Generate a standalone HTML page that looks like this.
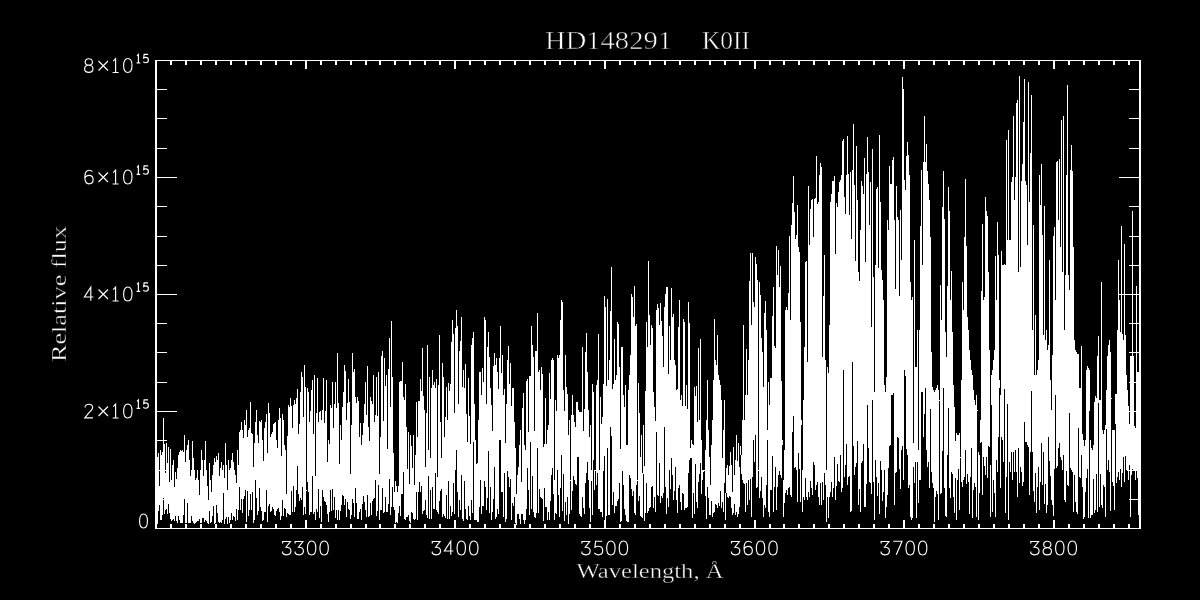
<!DOCTYPE html><html><head><meta charset="utf-8"><style>html,body{margin:0;padding:0;background:#000;width:1200px;height:600px;overflow:hidden}svg{display:block;font-family:"Liberation Serif",serif;will-change:transform}</style></head><body><svg width="1200" height="600" viewBox="0 0 1200 600" shape-rendering="crispEdges"><rect width="1200" height="600" fill="#000"/><path fill="#fff" d="M157 457h1V524h-1zM158 453h1V511h-1zM159 486h1V505h-1zM160 450h1V520h-1zM161 455h1V520h-1zM162 452h1V515h-1zM163 418h1V498h-1zM164 444h1V514h-1zM165 473h1V510h-1zM166 443h1V509h-1zM167 463h1V514h-1zM168 447h1V504h-1zM169 482h1V513h-1zM170 449h1V519h-1zM171 480h1V521h-1zM172 465h1V520h-1zM173 460h1V519h-1zM174 487h1V521h-1zM175 472h1V516h-1zM176 479h1V521h-1zM177 468h1V523h-1zM178 455h1V516h-1zM179 452h1V520h-1zM180 450h1V523h-1zM181 451h1V523h-1zM182 450h1V523h-1zM183 452h1V515h-1zM184 435h1V499h-1zM185 462h1V523h-1zM186 450h1V523h-1zM187 445h1V503h-1zM188 440h1V523h-1zM189 460h1V523h-1zM190 476h1V523h-1zM191 470h1V516h-1zM192 441h1V521h-1zM193 458h1V523h-1zM194 470h1V524h-1zM195 480h1V523h-1zM196 478h1V522h-1zM197 470h1V521h-1zM198 480h1V521h-1zM199 495h1V519h-1zM200 470h1V523h-1zM201 450h1V523h-1zM202 460h1V518h-1zM203 476h1V518h-1zM204 460h1V522h-1zM205 441h1V520h-1zM206 470h1V521h-1zM207 486h1V523h-1zM208 500h1V524h-1zM209 463h1V511h-1zM210 480h1V523h-1zM211 492h1V522h-1zM212 475h1V516h-1zM213 465h1V506h-1zM214 458h1V524h-1zM215 462h1V523h-1zM216 456h1V505h-1zM217 460h1V513h-1zM218 453h1V522h-1zM219 476h1V523h-1zM220 468h1V522h-1zM221 462h1V523h-1zM222 470h1V520h-1zM223 465h1V493h-1zM224 478h1V524h-1zM225 443h1V519h-1zM226 465h1V517h-1zM227 490h1V524h-1zM228 460h1V517h-1zM229 470h1V523h-1zM230 468h1V520h-1zM231 460h1V513h-1zM232 453h1V520h-1zM233 462h1V516h-1zM234 470h1V517h-1zM235 475h1V521h-1zM236 483h1V509h-1zM237 450h1V520h-1zM238 465h1V510h-1zM239 432h1V487h-1zM240 430h1V510h-1zM241 422h1V499h-1zM242 430h1V513h-1zM243 438h1V499h-1zM244 420h1V496h-1zM245 425h1V490h-1zM246 410h1V522h-1zM247 437h1V491h-1zM248 430h1V516h-1zM249 428h1V510h-1zM250 402h1V494h-1zM251 433h1V510h-1zM252 434h1V492h-1zM253 467h1V523h-1zM254 443h1V520h-1zM255 422h1V480h-1zM256 410h1V498h-1zM257 435h1V515h-1zM258 443h1V511h-1zM259 421h1V488h-1zM260 422h1V507h-1zM261 420h1V511h-1zM262 440h1V521h-1zM263 461h1V520h-1zM264 428h1V512h-1zM265 422h1V512h-1zM266 414h1V490h-1zM267 453h1V522h-1zM268 403h1V506h-1zM269 413h1V504h-1zM270 437h1V512h-1zM271 434h1V511h-1zM272 432h1V507h-1zM273 424h1V509h-1zM274 423h1V515h-1zM275 422h1V516h-1zM276 440h1V511h-1zM277 448h1V509h-1zM278 420h1V508h-1zM279 408h1V512h-1zM280 418h1V520h-1zM281 456h1V516h-1zM282 414h1V500h-1zM283 420h1V516h-1zM284 445h1V508h-1zM285 450h1V509h-1zM286 494h1V517h-1zM287 436h1V513h-1zM288 405h1V514h-1zM289 407h1V515h-1zM290 398h1V515h-1zM291 406h1V491h-1zM292 428h1V512h-1zM293 405h1V486h-1zM294 400h1V512h-1zM295 404h1V507h-1zM296 398h1V490h-1zM297 389h1V466h-1zM298 434h1V494h-1zM299 424h1V501h-1zM300 392h1V498h-1zM301 372h1V500h-1zM302 377h1V487h-1zM303 417h1V515h-1zM304 365h1V507h-1zM305 387h1V514h-1zM306 490h1V491h-1zM307 388h1V482h-1zM308 392h1V492h-1zM309 422h1V515h-1zM310 411h1V512h-1zM311 390h1V512h-1zM312 380h1V476h-1zM313 434h1V514h-1zM314 375h1V512h-1zM315 476h1V520h-1zM316 413h1V509h-1zM317 378h1V512h-1zM318 422h1V489h-1zM319 412h1V518h-1zM320 411h1V506h-1zM321 420h1V522h-1zM322 410h1V490h-1zM323 378h1V497h-1zM324 423h1V501h-1zM325 411h1V502h-1zM326 380h1V505h-1zM327 462h1V514h-1zM328 440h1V522h-1zM329 444h1V512h-1zM330 405h1V490h-1zM331 408h1V511h-1zM332 382h1V489h-1zM333 428h1V510h-1zM334 404h1V497h-1zM335 382h1V518h-1zM336 408h1V510h-1zM337 353h1V520h-1zM338 403h1V510h-1zM339 464h1V520h-1zM340 425h1V511h-1zM341 440h1V505h-1zM342 407h1V495h-1zM343 392h1V496h-1zM344 365h1V505h-1zM345 371h1V499h-1zM346 420h1V517h-1zM347 403h1V502h-1zM348 379h1V509h-1zM349 402h1V510h-1zM350 474h1V519h-1zM351 425h1V515h-1zM352 353h1V499h-1zM353 372h1V503h-1zM354 369h1V517h-1zM355 397h1V488h-1zM356 403h1V503h-1zM357 397h1V519h-1zM358 401h1V519h-1zM359 437h1V512h-1zM360 423h1V509h-1zM361 445h1V520h-1zM362 435h1V504h-1zM363 423h1V496h-1zM364 404h1V502h-1zM365 382h1V510h-1zM366 415h1V517h-1zM367 366h1V495h-1zM368 427h1V517h-1zM369 441h1V516h-1zM370 397h1V503h-1zM371 401h1V515h-1zM372 404h1V501h-1zM373 375h1V499h-1zM374 422h1V498h-1zM375 415h1V480h-1zM376 377h1V516h-1zM377 416h1V511h-1zM378 372h1V485h-1zM379 474h1V520h-1zM380 437h1V510h-1zM381 356h1V510h-1zM382 351h1V488h-1zM383 421h1V513h-1zM384 358h1V512h-1zM385 386h1V497h-1zM386 375h1V512h-1zM387 449h1V512h-1zM388 369h1V504h-1zM389 338h1V479h-1zM390 407h1V515h-1zM391 321h1V507h-1zM392 377h1V487h-1zM393 453h1V507h-1zM394 492h1V510h-1zM395 481h1V523h-1zM396 486h1V522h-1zM397 492h1V523h-1zM398 486h1V513h-1zM399 382h1V506h-1zM400 381h1V516h-1zM401 381h1V494h-1zM402 362h1V494h-1zM403 397h1V472h-1zM404 400h1V519h-1zM405 384h1V520h-1zM406 427h1V517h-1zM407 469h1V517h-1zM408 432h1V515h-1zM409 484h1V521h-1zM410 435h1V523h-1zM411 446h1V512h-1zM412 468h1V513h-1zM413 435h1V519h-1zM414 485h1V520h-1zM415 455h1V519h-1zM416 402h1V492h-1zM417 437h1V520h-1zM418 401h1V492h-1zM419 401h1V482h-1zM420 379h1V492h-1zM421 391h1V486h-1zM422 348h1V514h-1zM423 396h1V511h-1zM424 410h1V510h-1zM425 467h1V500h-1zM426 413h1V515h-1zM427 345h1V518h-1zM428 450h1V476h-1zM429 377h1V519h-1zM430 458h1V490h-1zM431 388h1V519h-1zM432 370h1V487h-1zM433 385h1V509h-1zM434 382h1V509h-1zM435 388h1V473h-1zM436 379h1V510h-1zM437 477h1V512h-1zM438 385h1V514h-1zM439 335h1V501h-1zM440 422h1V491h-1zM441 458h1V489h-1zM442 363h1V517h-1zM443 377h1V514h-1zM444 437h1V516h-1zM445 417h1V518h-1zM446 387h1V495h-1zM447 420h1V519h-1zM448 383h1V481h-1zM449 391h1V519h-1zM450 384h1V506h-1zM451 342h1V516h-1zM452 320h1V512h-1zM453 334h1V483h-1zM454 413h1V514h-1zM455 328h1V470h-1zM456 310h1V450h-1zM457 326h1V492h-1zM458 404h1V517h-1zM459 351h1V500h-1zM460 341h1V510h-1zM461 317h1V475h-1zM462 387h1V519h-1zM463 370h1V521h-1zM464 388h1V481h-1zM465 364h1V509h-1zM466 414h1V519h-1zM467 442h1V520h-1zM468 378h1V506h-1zM469 416h1V516h-1zM470 444h1V520h-1zM471 345h1V500h-1zM472 338h1V513h-1zM473 332h1V442h-1zM474 404h1V520h-1zM475 440h1V520h-1zM476 464h1V520h-1zM477 463h1V522h-1zM478 420h1V522h-1zM479 372h1V507h-1zM480 372h1V480h-1zM481 395h1V514h-1zM482 368h1V506h-1zM483 382h1V506h-1zM484 317h1V481h-1zM485 320h1V487h-1zM486 404h1V510h-1zM487 347h1V498h-1zM488 332h1V451h-1zM489 357h1V513h-1zM490 388h1V487h-1zM491 405h1V520h-1zM492 431h1V512h-1zM493 366h1V499h-1zM494 353h1V467h-1zM495 365h1V519h-1zM496 358h1V517h-1zM497 372h1V509h-1zM498 389h1V514h-1zM499 358h1V440h-1zM500 326h1V440h-1zM501 373h1V492h-1zM502 355h1V492h-1zM503 395h1V517h-1zM504 389h1V473h-1zM505 443h1V522h-1zM506 404h1V519h-1zM507 360h1V471h-1zM508 346h1V477h-1zM509 384h1V487h-1zM510 363h1V479h-1zM511 406h1V520h-1zM512 388h1V503h-1zM513 388h1V506h-1zM514 422h1V497h-1zM515 448h1V523h-1zM516 494h1V525h-1zM517 475h1V514h-1zM518 467h1V514h-1zM519 445h1V519h-1zM520 430h1V524h-1zM521 482h1V514h-1zM522 408h1V514h-1zM523 393h1V520h-1zM524 445h1V524h-1zM525 450h1V520h-1zM526 381h1V509h-1zM527 379h1V468h-1zM528 432h1V490h-1zM529 376h1V515h-1zM530 376h1V442h-1zM531 326h1V509h-1zM532 345h1V476h-1zM533 357h1V512h-1zM534 431h1V517h-1zM535 351h1V518h-1zM536 351h1V513h-1zM537 313h1V448h-1zM538 372h1V513h-1zM539 370h1V489h-1zM540 390h1V497h-1zM541 367h1V498h-1zM542 374h1V499h-1zM543 447h1V521h-1zM544 444h1V488h-1zM545 398h1V507h-1zM546 444h1V507h-1zM547 430h1V520h-1zM548 425h1V512h-1zM549 373h1V520h-1zM550 399h1V501h-1zM551 360h1V475h-1zM552 358h1V468h-1zM553 360h1V494h-1zM554 480h1V520h-1zM555 400h1V513h-1zM556 411h1V514h-1zM557 355h1V470h-1zM558 358h1V495h-1zM559 355h1V517h-1zM560 320h1V488h-1zM561 300h1V455h-1zM562 302h1V511h-1zM563 390h1V474h-1zM564 411h1V521h-1zM565 355h1V502h-1zM566 387h1V515h-1zM567 394h1V497h-1zM568 435h1V524h-1zM569 420h1V514h-1zM570 480h1V481h-1zM571 415h1V510h-1zM572 395h1V491h-1zM573 415h1V476h-1zM574 422h1V480h-1zM575 427h1V484h-1zM576 402h1V485h-1zM577 402h1V457h-1zM578 410h1V457h-1zM579 412h1V514h-1zM580 412h1V516h-1zM581 412h1V517h-1zM582 347h1V497h-1zM583 431h1V508h-1zM584 409h1V514h-1zM585 352h1V483h-1zM586 333h1V473h-1zM587 372h1V462h-1zM588 410h1V480h-1zM589 437h1V508h-1zM590 425h1V522h-1zM591 470h1V481h-1zM592 384h1V515h-1zM593 392h1V460h-1zM594 470h1V490h-1zM595 470h1V471h-1zM596 385h1V485h-1zM597 380h1V473h-1zM598 334h1V509h-1zM599 470h1V509h-1zM600 397h1V512h-1zM601 424h1V512h-1zM602 417h1V517h-1zM603 384h1V471h-1zM604 296h1V456h-1zM605 307h1V520h-1zM606 386h1V516h-1zM607 299h1V448h-1zM608 380h1V515h-1zM609 360h1V515h-1zM610 311h1V427h-1zM611 267h1V436h-1zM612 389h1V505h-1zM613 384h1V492h-1zM614 339h1V513h-1zM615 380h1V506h-1zM616 375h1V506h-1zM617 322h1V501h-1zM618 324h1V499h-1zM619 367h1V483h-1zM620 449h1V522h-1zM621 347h1V521h-1zM622 347h1V471h-1zM623 395h1V485h-1zM624 407h1V509h-1zM625 385h1V515h-1zM626 445h1V521h-1zM627 445h1V522h-1zM628 390h1V522h-1zM629 375h1V475h-1zM630 355h1V478h-1zM631 294h1V489h-1zM632 297h1V496h-1zM633 317h1V491h-1zM634 286h1V513h-1zM635 326h1V515h-1zM636 324h1V485h-1zM637 480h1V481h-1zM638 383h1V501h-1zM639 413h1V496h-1zM640 457h1V516h-1zM641 435h1V517h-1zM642 473h1V518h-1zM643 425h1V474h-1zM644 466h1V521h-1zM645 391h1V513h-1zM646 322h1V483h-1zM647 347h1V513h-1zM648 261h1V511h-1zM649 315h1V508h-1zM650 345h1V507h-1zM651 325h1V487h-1zM652 328h1V486h-1zM653 392h1V508h-1zM654 407h1V497h-1zM655 421h1V512h-1zM656 310h1V432h-1zM657 304h1V495h-1zM658 308h1V496h-1zM659 325h1V463h-1zM660 303h1V503h-1zM661 321h1V496h-1zM662 336h1V498h-1zM663 367h1V493h-1zM664 307h1V427h-1zM665 294h1V487h-1zM666 287h1V514h-1zM667 287h1V498h-1zM668 374h1V507h-1zM669 326h1V470h-1zM670 360h1V489h-1zM671 288h1V458h-1zM672 317h1V475h-1zM673 314h1V500h-1zM674 360h1V491h-1zM675 365h1V467h-1zM676 390h1V500h-1zM677 389h1V513h-1zM678 327h1V488h-1zM679 300h1V485h-1zM680 400h1V502h-1zM681 395h1V510h-1zM682 406h1V493h-1zM683 319h1V494h-1zM684 322h1V510h-1zM685 406h1V508h-1zM686 385h1V508h-1zM687 409h1V507h-1zM688 302h1V473h-1zM689 323h1V460h-1zM690 448h1V458h-1zM691 440h1V458h-1zM692 444h1V518h-1zM693 445h1V493h-1zM694 387h1V514h-1zM695 396h1V464h-1zM696 386h1V502h-1zM697 422h1V508h-1zM698 348h1V482h-1zM699 420h1V474h-1zM700 339h1V463h-1zM701 440h1V494h-1zM702 470h1V480h-1zM703 470h1V472h-1zM704 470h1V471h-1zM705 450h1V496h-1zM706 420h1V519h-1zM707 380h1V487h-1zM708 430h1V498h-1zM709 457h1V515h-1zM710 485h1V515h-1zM711 445h1V501h-1zM712 420h1V517h-1zM713 380h1V513h-1zM714 319h1V512h-1zM715 360h1V504h-1zM716 365h1V505h-1zM717 335h1V508h-1zM718 375h1V503h-1zM719 380h1V506h-1zM720 385h1V491h-1zM721 400h1V508h-1zM722 458h1V502h-1zM723 430h1V512h-1zM724 400h1V483h-1zM725 493h1V520h-1zM726 468h1V493h-1zM727 465h1V497h-1zM728 475h1V498h-1zM729 466h1V496h-1zM730 452h1V497h-1zM731 465h1V508h-1zM732 492h1V515h-1zM733 447h1V513h-1zM734 475h1V504h-1zM735 460h1V515h-1zM736 435h1V512h-1zM737 461h1V517h-1zM738 443h1V514h-1zM739 467h1V507h-1zM740 446h1V455h-1zM741 455h1V474h-1zM742 420h1V480h-1zM743 325h1V483h-1zM744 420h1V484h-1zM745 395h1V512h-1zM746 349h1V483h-1zM747 395h1V505h-1zM748 360h1V480h-1zM749 281h1V500h-1zM750 253h1V479h-1zM751 325h1V517h-1zM752 253h1V477h-1zM753 302h1V440h-1zM754 307h1V462h-1zM755 257h1V435h-1zM756 264h1V488h-1zM757 280h1V487h-1zM758 470h1V471h-1zM759 282h1V498h-1zM760 295h1V491h-1zM761 338h1V477h-1zM762 352h1V498h-1zM763 387h1V517h-1zM764 313h1V505h-1zM765 301h1V508h-1zM766 330h1V485h-1zM767 430h1V440h-1zM768 382h1V512h-1zM769 405h1V517h-1zM770 378h1V490h-1zM771 378h1V490h-1zM772 316h1V456h-1zM773 287h1V512h-1zM774 346h1V487h-1zM775 348h1V467h-1zM776 246h1V510h-1zM777 275h1V487h-1zM778 250h1V475h-1zM779 287h1V471h-1zM780 266h1V475h-1zM781 381h1V478h-1zM782 440h1V445h-1zM783 480h1V517h-1zM784 450h1V503h-1zM785 310h1V493h-1zM786 307h1V490h-1zM787 310h1V495h-1zM788 293h1V488h-1zM789 236h1V487h-1zM790 320h1V495h-1zM791 225h1V497h-1zM792 203h1V432h-1zM793 176h1V416h-1zM794 212h1V468h-1zM795 239h1V467h-1zM796 235h1V470h-1zM797 205h1V502h-1zM798 247h1V453h-1zM799 252h1V469h-1zM800 322h1V502h-1zM801 420h1V425h-1zM802 470h1V512h-1zM803 400h1V497h-1zM804 347h1V500h-1zM805 262h1V478h-1zM806 261h1V497h-1zM807 362h1V500h-1zM808 186h1V492h-1zM809 245h1V497h-1zM810 209h1V481h-1zM811 200h1V488h-1zM812 199h1V495h-1zM813 237h1V462h-1zM814 199h1V465h-1zM815 198h1V490h-1zM816 156h1V485h-1zM817 204h1V482h-1zM818 202h1V497h-1zM819 175h1V505h-1zM820 163h1V483h-1zM821 167h1V505h-1zM822 357h1V482h-1zM823 296h1V500h-1zM824 255h1V473h-1zM825 360h1V485h-1zM826 470h1V522h-1zM827 367h1V497h-1zM828 373h1V518h-1zM829 325h1V497h-1zM830 202h1V492h-1zM831 194h1V482h-1zM832 181h1V497h-1zM833 181h1V488h-1zM834 176h1V457h-1zM835 254h1V500h-1zM836 203h1V486h-1zM837 207h1V464h-1zM838 192h1V481h-1zM839 182h1V482h-1zM840 180h1V455h-1zM841 175h1V492h-1zM842 141h1V488h-1zM843 139h1V370h-1zM844 197h1V477h-1zM845 214h1V465h-1zM846 175h1V444h-1zM847 136h1V485h-1zM848 174h1V477h-1zM849 215h1V476h-1zM850 172h1V512h-1zM851 239h1V511h-1zM852 170h1V362h-1zM853 124h1V446h-1zM854 185h1V475h-1zM855 261h1V467h-1zM856 146h1V463h-1zM857 200h1V441h-1zM858 272h1V505h-1zM859 281h1V489h-1zM860 230h1V512h-1zM861 181h1V463h-1zM862 186h1V461h-1zM863 194h1V444h-1zM864 158h1V507h-1zM865 262h1V507h-1zM866 174h1V484h-1zM867 137h1V405h-1zM868 172h1V448h-1zM869 225h1V482h-1zM870 182h1V483h-1zM871 327h1V494h-1zM872 149h1V400h-1zM873 277h1V482h-1zM874 392h1V520h-1zM875 265h1V460h-1zM876 189h1V477h-1zM877 187h1V496h-1zM878 268h1V483h-1zM879 135h1V514h-1zM880 202h1V461h-1zM881 270h1V470h-1zM882 280h1V501h-1zM883 300h1V492h-1zM884 385h1V470h-1zM885 392h1V518h-1zM886 377h1V507h-1zM887 220h1V495h-1zM888 230h1V468h-1zM889 166h1V446h-1zM890 184h1V445h-1zM891 184h1V395h-1zM892 160h1V395h-1zM893 157h1V393h-1zM894 220h1V505h-1zM895 289h1V473h-1zM896 186h1V472h-1zM897 217h1V437h-1zM898 220h1V438h-1zM899 296h1V469h-1zM900 210h1V489h-1zM901 260h1V450h-1zM902 77h1V446h-1zM903 89h1V480h-1zM904 180h1V370h-1zM905 190h1V376h-1zM906 156h1V449h-1zM907 142h1V455h-1zM908 155h1V488h-1zM909 175h1V485h-1zM910 282h1V517h-1zM911 300h1V520h-1zM912 297h1V518h-1zM913 443h1V467h-1zM914 240h1V483h-1zM915 367h1V462h-1zM916 367h1V518h-1zM917 330h1V462h-1zM918 450h1V503h-1zM919 330h1V480h-1zM920 226h1V480h-1zM921 170h1V392h-1zM922 265h1V392h-1zM923 162h1V437h-1zM924 116h1V414h-1zM925 162h1V388h-1zM926 144h1V450h-1zM927 171h1V467h-1zM928 184h1V462h-1zM929 200h1V488h-1zM930 237h1V409h-1zM931 352h1V472h-1zM932 387h1V483h-1zM933 390h1V488h-1zM934 392h1V522h-1zM935 390h1V497h-1zM936 388h1V491h-1zM937 385h1V494h-1zM938 390h1V520h-1zM939 400h1V401h-1zM940 285h1V494h-1zM941 320h1V493h-1zM942 207h1V451h-1zM943 171h1V388h-1zM944 219h1V488h-1zM945 332h1V516h-1zM946 357h1V517h-1zM947 286h1V455h-1zM948 187h1V408h-1zM949 211h1V488h-1zM950 300h1V498h-1zM951 271h1V472h-1zM952 332h1V474h-1zM953 385h1V497h-1zM954 407h1V513h-1zM955 441h1V478h-1zM956 433h1V520h-1zM957 435h1V480h-1zM958 435h1V469h-1zM959 433h1V510h-1zM960 457h1V458h-1zM961 380h1V482h-1zM962 282h1V487h-1zM963 310h1V480h-1zM964 237h1V477h-1zM965 179h1V450h-1zM966 246h1V484h-1zM967 317h1V474h-1zM968 330h1V482h-1zM969 350h1V514h-1zM970 360h1V477h-1zM971 370h1V448h-1zM972 375h1V518h-1zM973 390h1V490h-1zM974 400h1V483h-1zM975 405h1V487h-1zM976 395h1V517h-1zM977 410h1V411h-1zM978 452h1V520h-1zM979 455h1V493h-1zM980 420h1V443h-1zM981 291h1V442h-1zM982 224h1V495h-1zM983 300h1V457h-1zM984 297h1V466h-1zM985 197h1V475h-1zM986 211h1V457h-1zM987 216h1V478h-1zM988 272h1V446h-1zM989 350h1V447h-1zM990 465h1V517h-1zM991 375h1V405h-1zM992 370h1V512h-1zM993 360h1V480h-1zM994 350h1V493h-1zM995 256h1V517h-1zM996 300h1V460h-1zM997 222h1V472h-1zM998 255h1V437h-1zM999 380h1V388h-1zM1000 395h1V488h-1zM1001 251h1V437h-1zM1002 265h1V440h-1zM1003 265h1V462h-1zM1004 264h1V389h-1zM1005 265h1V513h-1zM1006 140h1V477h-1zM1007 240h1V404h-1zM1008 130h1V520h-1zM1009 240h1V462h-1zM1010 240h1V472h-1zM1011 182h1V452h-1zM1012 177h1V480h-1zM1013 116h1V452h-1zM1014 200h1V472h-1zM1015 177h1V450h-1zM1016 103h1V472h-1zM1017 100h1V497h-1zM1018 272h1V448h-1zM1019 76h1V483h-1zM1020 267h1V467h-1zM1021 181h1V472h-1zM1022 164h1V486h-1zM1023 122h1V482h-1zM1024 79h1V422h-1zM1025 181h1V442h-1zM1026 185h1V442h-1zM1027 245h1V445h-1zM1028 82h1V447h-1zM1029 202h1V495h-1zM1030 153h1V452h-1zM1031 95h1V391h-1zM1032 330h1V452h-1zM1033 225h1V491h-1zM1034 375h1V502h-1zM1035 315h1V473h-1zM1036 375h1V513h-1zM1037 370h1V487h-1zM1038 360h1V467h-1zM1039 175h1V510h-1zM1040 205h1V482h-1zM1041 164h1V443h-1zM1042 235h1V485h-1zM1043 335h1V452h-1zM1044 206h1V504h-1zM1045 340h1V484h-1zM1046 330h1V513h-1zM1047 350h1V505h-1zM1048 345h1V437h-1zM1049 260h1V461h-1zM1050 380h1V476h-1zM1051 410h1V500h-1zM1052 355h1V505h-1zM1053 236h1V516h-1zM1054 227h1V469h-1zM1055 300h1V395h-1zM1056 162h1V468h-1zM1057 161h1V466h-1zM1058 220h1V448h-1zM1059 159h1V443h-1zM1060 247h1V457h-1zM1061 120h1V460h-1zM1062 272h1V470h-1zM1063 116h1V455h-1zM1064 330h1V500h-1zM1065 275h1V502h-1zM1066 175h1V471h-1zM1067 85h1V485h-1zM1068 275h1V486h-1zM1069 290h1V413h-1zM1070 170h1V468h-1zM1071 145h1V470h-1zM1072 171h1V472h-1zM1073 247h1V512h-1zM1074 340h1V475h-1zM1075 350h1V502h-1zM1076 352h1V512h-1zM1077 354h1V514h-1zM1078 354h1V428h-1zM1079 388h1V477h-1zM1080 388h1V478h-1zM1081 346h1V455h-1zM1082 434h1V487h-1zM1083 440h1V519h-1zM1084 446h1V517h-1zM1085 440h1V492h-1zM1086 370h1V478h-1zM1087 366h1V469h-1zM1088 368h1V518h-1zM1089 370h1V411h-1zM1090 440h1V518h-1zM1091 448h1V515h-1zM1092 450h1V515h-1zM1093 445h1V479h-1zM1094 402h1V513h-1zM1095 396h1V510h-1zM1096 398h1V474h-1zM1097 356h1V512h-1zM1098 336h1V403h-1zM1099 400h1V507h-1zM1100 400h1V474h-1zM1101 282h1V505h-1zM1102 430h1V508h-1zM1103 434h1V485h-1zM1104 430h1V487h-1zM1105 425h1V517h-1zM1106 390h1V429h-1zM1107 356h1V470h-1zM1108 345h1V460h-1zM1109 340h1V472h-1zM1110 352h1V511h-1zM1111 398h1V399h-1zM1112 430h1V482h-1zM1113 430h1V486h-1zM1114 430h1V510h-1zM1115 394h1V424h-1zM1116 394h1V483h-1zM1117 330h1V477h-1zM1118 260h1V472h-1zM1119 300h1V480h-1zM1120 332h1V469h-1zM1121 226h1V487h-1zM1122 334h1V473h-1zM1123 340h1V457h-1zM1124 244h1V482h-1zM1125 335h1V456h-1zM1126 375h1V470h-1zM1127 390h1V471h-1zM1128 406h1V480h-1zM1129 424h1V465h-1zM1130 356h1V517h-1zM1131 356h1V475h-1zM1132 211h1V469h-1zM1133 356h1V470h-1zM1134 426h1V471h-1zM1135 428h1V480h-1zM1136 286h1V471h-1zM1137 372h1V478h-1zM1138 372h1V515h-1z"/><path fill="#fff" d="M155 60h986v1h-986zM155 528h986v1h-986zM155 60h2v469h-2zM1139 60h2v469h-2zM155 61h2v8h-2zM155 520h2v8h-2zM170 61h2v4h-2zM170 524h2v4h-2zM185 61h2v4h-2zM185 524h2v4h-2zM200 61h2v4h-2zM200 524h2v4h-2zM215 61h2v4h-2zM215 524h2v4h-2zM230 61h2v4h-2zM230 524h2v4h-2zM245 61h2v4h-2zM245 524h2v4h-2zM260 61h2v4h-2zM260 524h2v4h-2zM275 61h2v4h-2zM275 524h2v4h-2zM290 61h2v4h-2zM290 524h2v4h-2zM305 61h2v8h-2zM305 520h2v8h-2zM320 61h2v4h-2zM320 524h2v4h-2zM335 61h2v4h-2zM335 524h2v4h-2zM350 61h2v4h-2zM350 524h2v4h-2zM365 61h2v4h-2zM365 524h2v4h-2zM379 61h2v4h-2zM379 524h2v4h-2zM394 61h2v4h-2zM394 524h2v4h-2zM409 61h2v4h-2zM409 524h2v4h-2zM424 61h2v4h-2zM424 524h2v4h-2zM439 61h2v4h-2zM439 524h2v4h-2zM454 61h2v8h-2zM454 520h2v8h-2zM469 61h2v4h-2zM469 524h2v4h-2zM484 61h2v4h-2zM484 524h2v4h-2zM499 61h2v4h-2zM499 524h2v4h-2zM514 61h2v4h-2zM514 524h2v4h-2zM529 61h2v4h-2zM529 524h2v4h-2zM544 61h2v4h-2zM544 524h2v4h-2zM559 61h2v4h-2zM559 524h2v4h-2zM574 61h2v4h-2zM574 524h2v4h-2zM589 61h2v4h-2zM589 524h2v4h-2zM604 61h2v8h-2zM604 520h2v8h-2zM619 61h2v4h-2zM619 524h2v4h-2zM634 61h2v4h-2zM634 524h2v4h-2zM649 61h2v4h-2zM649 524h2v4h-2zM664 61h2v4h-2zM664 524h2v4h-2zM679 61h2v4h-2zM679 524h2v4h-2zM694 61h2v4h-2zM694 524h2v4h-2zM709 61h2v4h-2zM709 524h2v4h-2zM724 61h2v4h-2zM724 524h2v4h-2zM739 61h2v4h-2zM739 524h2v4h-2zM754 61h2v8h-2zM754 520h2v8h-2zM769 61h2v4h-2zM769 524h2v4h-2zM783 61h2v4h-2zM783 524h2v4h-2zM798 61h2v4h-2zM798 524h2v4h-2zM813 61h2v4h-2zM813 524h2v4h-2zM828 61h2v4h-2zM828 524h2v4h-2zM843 61h2v4h-2zM843 524h2v4h-2zM858 61h2v4h-2zM858 524h2v4h-2zM873 61h2v4h-2zM873 524h2v4h-2zM888 61h2v4h-2zM888 524h2v4h-2zM903 61h2v8h-2zM903 520h2v8h-2zM918 61h2v4h-2zM918 524h2v4h-2zM933 61h2v4h-2zM933 524h2v4h-2zM948 61h2v4h-2zM948 524h2v4h-2zM963 61h2v4h-2zM963 524h2v4h-2zM978 61h2v4h-2zM978 524h2v4h-2zM993 61h2v4h-2zM993 524h2v4h-2zM1008 61h2v4h-2zM1008 524h2v4h-2zM1023 61h2v4h-2zM1023 524h2v4h-2zM1038 61h2v4h-2zM1038 524h2v4h-2zM1053 61h2v8h-2zM1053 520h2v8h-2zM1068 61h2v4h-2zM1068 524h2v4h-2zM1083 61h2v4h-2zM1083 524h2v4h-2zM1098 61h2v4h-2zM1098 524h2v4h-2zM1113 61h2v4h-2zM1113 524h2v4h-2zM1128 61h2v4h-2zM1128 524h2v4h-2zM157 528h20v1h-20zM1119 528h20v1h-20zM157 499h10v1h-10zM1129 499h10v1h-10zM157 470h10v1h-10zM1129 470h10v1h-10zM157 440h10v1h-10zM1129 440h10v1h-10zM157 411h20v1h-20zM1119 411h20v1h-20zM157 382h10v1h-10zM1129 382h10v1h-10zM157 352h10v1h-10zM1129 352h10v1h-10zM157 323h10v1h-10zM1129 323h10v1h-10zM157 294h20v1h-20zM1119 294h20v1h-20zM157 265h10v1h-10zM1129 265h10v1h-10zM157 236h10v1h-10zM1129 236h10v1h-10zM157 206h10v1h-10zM1129 206h10v1h-10zM157 177h20v1h-20zM1119 177h20v1h-20zM157 148h10v1h-10zM1129 148h10v1h-10zM157 118h10v1h-10zM1129 118h10v1h-10zM157 89h10v1h-10zM1129 89h10v1h-10zM157 60h20v1h-20zM1119 60h20v1h-20z"/><g fill="#fff" shape-rendering="auto" font-family="Liberation Serif, serif"><text x="545" y="49" font-size="26" stroke="#000" stroke-width="0.6" textLength="127" lengthAdjust="spacingAndGlyphs">HD148291</text><text x="702" y="49" font-size="26" stroke="#000" stroke-width="0.6" textLength="48" lengthAdjust="spacingAndGlyphs">K0II</text><g fill="none" stroke="#fff" stroke-width="1.15" shape-rendering="geometricPrecision"><path transform="translate(281.63 541.00) scale(1.000 1.000)" vector-effect="non-scaling-stroke" d="M1 2.6V0.5H8.8L4.4 6.2C7.6 6.2 9.3 7.9 9.3 10.1C9.3 12.5 7.6 13.8 5 13.8C3.1 13.8 1.7 13.2 1 12.2V10.6"/><path transform="translate(294.13 541.00) scale(1.000 1.000)" vector-effect="non-scaling-stroke" d="M1 2.6V0.5H8.8L4.4 6.2C7.6 6.2 9.3 7.9 9.3 10.1C9.3 12.5 7.6 13.8 5 13.8C3.1 13.8 1.7 13.2 1 12.2V10.6"/><path transform="translate(306.63 541.00) scale(1.000 1.000)" vector-effect="non-scaling-stroke" d="M5 0C2.3 0 0.8 3 0.8 7C0.8 11 2.3 14 5 14C7.7 14 9.2 11 9.2 7C9.2 3 7.7 0 5 0Z"/><path transform="translate(319.13 541.00) scale(1.000 1.000)" vector-effect="non-scaling-stroke" d="M5 0C2.3 0 0.8 3 0.8 7C0.8 11 2.3 14 5 14C7.7 14 9.2 11 9.2 7C9.2 3 7.7 0 5 0Z"/><path transform="translate(431.26 541.00) scale(1.000 1.000)" vector-effect="non-scaling-stroke" d="M1 2.6V0.5H8.8L4.4 6.2C7.6 6.2 9.3 7.9 9.3 10.1C9.3 12.5 7.6 13.8 5 13.8C3.1 13.8 1.7 13.2 1 12.2V10.6"/><path transform="translate(443.76 541.00) scale(1.000 1.000)" vector-effect="non-scaling-stroke" d="M7 13.8V0.2L0.6 10H9.6"/><path transform="translate(456.26 541.00) scale(1.000 1.000)" vector-effect="non-scaling-stroke" d="M5 0C2.3 0 0.8 3 0.8 7C0.8 11 2.3 14 5 14C7.7 14 9.2 11 9.2 7C9.2 3 7.7 0 5 0Z"/><path transform="translate(468.76 541.00) scale(1.000 1.000)" vector-effect="non-scaling-stroke" d="M5 0C2.3 0 0.8 3 0.8 7C0.8 11 2.3 14 5 14C7.7 14 9.2 11 9.2 7C9.2 3 7.7 0 5 0Z"/><path transform="translate(580.89 541.00) scale(1.000 1.000)" vector-effect="non-scaling-stroke" d="M1 2.6V0.5H8.8L4.4 6.2C7.6 6.2 9.3 7.9 9.3 10.1C9.3 12.5 7.6 13.8 5 13.8C3.1 13.8 1.7 13.2 1 12.2V10.6"/><path transform="translate(593.39 541.00) scale(1.000 1.000)" vector-effect="non-scaling-stroke" d="M8.8 0.2H2.2L1.5 6.2C2.6 5.5 3.7 5.2 5 5.2C7.7 5.2 9.3 7 9.3 9.5C9.3 12.1 7.6 13.8 5 13.8C3.1 13.8 1.7 13.1 0.9 11.9"/><path transform="translate(605.89 541.00) scale(1.000 1.000)" vector-effect="non-scaling-stroke" d="M5 0C2.3 0 0.8 3 0.8 7C0.8 11 2.3 14 5 14C7.7 14 9.2 11 9.2 7C9.2 3 7.7 0 5 0Z"/><path transform="translate(618.39 541.00) scale(1.000 1.000)" vector-effect="non-scaling-stroke" d="M5 0C2.3 0 0.8 3 0.8 7C0.8 11 2.3 14 5 14C7.7 14 9.2 11 9.2 7C9.2 3 7.7 0 5 0Z"/><path transform="translate(730.52 541.00) scale(1.000 1.000)" vector-effect="non-scaling-stroke" d="M1 2.6V0.5H8.8L4.4 6.2C7.6 6.2 9.3 7.9 9.3 10.1C9.3 12.5 7.6 13.8 5 13.8C3.1 13.8 1.7 13.2 1 12.2V10.6"/><path transform="translate(743.02 541.00) scale(1.000 1.000)" vector-effect="non-scaling-stroke" d="M8.6 1.6C7.9 0.6 6.7 0.2 5.3 0.2C2.5 0.2 1 3.2 1 7.3C1 11.6 2.6 13.8 5.2 13.8C7.8 13.8 9.3 12 9.3 9.5C9.3 7 7.8 5.4 5.3 5.4C3.1 5.4 1.6 6.6 1 8.6"/><path transform="translate(755.52 541.00) scale(1.000 1.000)" vector-effect="non-scaling-stroke" d="M5 0C2.3 0 0.8 3 0.8 7C0.8 11 2.3 14 5 14C7.7 14 9.2 11 9.2 7C9.2 3 7.7 0 5 0Z"/><path transform="translate(768.02 541.00) scale(1.000 1.000)" vector-effect="non-scaling-stroke" d="M5 0C2.3 0 0.8 3 0.8 7C0.8 11 2.3 14 5 14C7.7 14 9.2 11 9.2 7C9.2 3 7.7 0 5 0Z"/><path transform="translate(880.15 541.00) scale(1.000 1.000)" vector-effect="non-scaling-stroke" d="M1 2.6V0.5H8.8L4.4 6.2C7.6 6.2 9.3 7.9 9.3 10.1C9.3 12.5 7.6 13.8 5 13.8C3.1 13.8 1.7 13.2 1 12.2V10.6"/><path transform="translate(892.65 541.00) scale(1.000 1.000)" vector-effect="non-scaling-stroke" d="M0.6 0.2H9.4L3.6 13.8"/><path transform="translate(905.15 541.00) scale(1.000 1.000)" vector-effect="non-scaling-stroke" d="M5 0C2.3 0 0.8 3 0.8 7C0.8 11 2.3 14 5 14C7.7 14 9.2 11 9.2 7C9.2 3 7.7 0 5 0Z"/><path transform="translate(917.65 541.00) scale(1.000 1.000)" vector-effect="non-scaling-stroke" d="M5 0C2.3 0 0.8 3 0.8 7C0.8 11 2.3 14 5 14C7.7 14 9.2 11 9.2 7C9.2 3 7.7 0 5 0Z"/><path transform="translate(1029.78 541.00) scale(1.000 1.000)" vector-effect="non-scaling-stroke" d="M1 2.6V0.5H8.8L4.4 6.2C7.6 6.2 9.3 7.9 9.3 10.1C9.3 12.5 7.6 13.8 5 13.8C3.1 13.8 1.7 13.2 1 12.2V10.6"/><path transform="translate(1042.28 541.00) scale(1.000 1.000)" vector-effect="non-scaling-stroke" d="M5 0.2C2.8 0.2 1.4 1.5 1.4 3.4C1.4 5.3 2.8 6.6 5 6.6C7.2 6.6 8.6 5.3 8.6 3.4C8.6 1.5 7.2 0.2 5 0.2ZM5 6.6C2.4 6.6 0.8 8 0.8 10.2C0.8 12.4 2.4 13.8 5 13.8C7.6 13.8 9.2 12.4 9.2 10.2C9.2 8 7.6 6.6 5 6.6Z"/><path transform="translate(1054.78 541.00) scale(1.000 1.000)" vector-effect="non-scaling-stroke" d="M5 0C2.3 0 0.8 3 0.8 7C0.8 11 2.3 14 5 14C7.7 14 9.2 11 9.2 7C9.2 3 7.7 0 5 0Z"/><path transform="translate(1067.28 541.00) scale(1.000 1.000)" vector-effect="non-scaling-stroke" d="M5 0C2.3 0 0.8 3 0.8 7C0.8 11 2.3 14 5 14C7.7 14 9.2 11 9.2 7C9.2 3 7.7 0 5 0Z"/><path transform="translate(83.80 404.00) scale(1.000 1.000)" vector-effect="non-scaling-stroke" d="M1.2 3.6C1.2 1.5 2.8 0.2 5 0.2C7.2 0.2 8.8 1.5 8.8 3.6C8.8 5.6 7.4 6.8 5.2 8.6L1 13.8H9.2"/><path d="M98.5 406.5L108 416M98.5 416L108 406.5"/><path transform="translate(110.60 404.00) scale(1.000 1.000)" vector-effect="non-scaling-stroke" d="M2.6 2.6L5 0.2V14M2 14H8"/><path transform="translate(122.80 404.00) scale(1.000 1.000)" vector-effect="non-scaling-stroke" d="M5 0C2.3 0 0.8 3 0.8 7C0.8 11 2.3 14 5 14C7.7 14 9.2 11 9.2 7C9.2 3 7.7 0 5 0Z"/><path transform="translate(135.40 399.70) scale(0.600 0.621)" vector-effect="non-scaling-stroke" d="M2.6 2.6L5 0.2V14M2 14H8"/><path transform="translate(142.80 399.70) scale(0.600 0.621)" vector-effect="non-scaling-stroke" d="M8.8 0.2H2.2L1.5 6.2C2.6 5.5 3.7 5.2 5 5.2C7.7 5.2 9.3 7 9.3 9.5C9.3 12.1 7.6 13.8 5 13.8C3.1 13.8 1.7 13.1 0.9 11.9"/><path transform="translate(83.80 287.00) scale(1.000 1.000)" vector-effect="non-scaling-stroke" d="M7 13.8V0.2L0.6 10H9.6"/><path d="M98.5 289.5L108 299M98.5 299L108 289.5"/><path transform="translate(110.60 287.00) scale(1.000 1.000)" vector-effect="non-scaling-stroke" d="M2.6 2.6L5 0.2V14M2 14H8"/><path transform="translate(122.80 287.00) scale(1.000 1.000)" vector-effect="non-scaling-stroke" d="M5 0C2.3 0 0.8 3 0.8 7C0.8 11 2.3 14 5 14C7.7 14 9.2 11 9.2 7C9.2 3 7.7 0 5 0Z"/><path transform="translate(135.40 282.70) scale(0.600 0.621)" vector-effect="non-scaling-stroke" d="M2.6 2.6L5 0.2V14M2 14H8"/><path transform="translate(142.80 282.70) scale(0.600 0.621)" vector-effect="non-scaling-stroke" d="M8.8 0.2H2.2L1.5 6.2C2.6 5.5 3.7 5.2 5 5.2C7.7 5.2 9.3 7 9.3 9.5C9.3 12.1 7.6 13.8 5 13.8C3.1 13.8 1.7 13.1 0.9 11.9"/><path transform="translate(83.80 170.00) scale(1.000 1.000)" vector-effect="non-scaling-stroke" d="M8.6 1.6C7.9 0.6 6.7 0.2 5.3 0.2C2.5 0.2 1 3.2 1 7.3C1 11.6 2.6 13.8 5.2 13.8C7.8 13.8 9.3 12 9.3 9.5C9.3 7 7.8 5.4 5.3 5.4C3.1 5.4 1.6 6.6 1 8.6"/><path d="M98.5 172.5L108 182M98.5 182L108 172.5"/><path transform="translate(110.60 170.00) scale(1.000 1.000)" vector-effect="non-scaling-stroke" d="M2.6 2.6L5 0.2V14M2 14H8"/><path transform="translate(122.80 170.00) scale(1.000 1.000)" vector-effect="non-scaling-stroke" d="M5 0C2.3 0 0.8 3 0.8 7C0.8 11 2.3 14 5 14C7.7 14 9.2 11 9.2 7C9.2 3 7.7 0 5 0Z"/><path transform="translate(135.40 165.70) scale(0.600 0.621)" vector-effect="non-scaling-stroke" d="M2.6 2.6L5 0.2V14M2 14H8"/><path transform="translate(142.80 165.70) scale(0.600 0.621)" vector-effect="non-scaling-stroke" d="M8.8 0.2H2.2L1.5 6.2C2.6 5.5 3.7 5.2 5 5.2C7.7 5.2 9.3 7 9.3 9.5C9.3 12.1 7.6 13.8 5 13.8C3.1 13.8 1.7 13.1 0.9 11.9"/><path transform="translate(83.80 58.50) scale(1.000 1.000)" vector-effect="non-scaling-stroke" d="M5 0.2C2.8 0.2 1.4 1.5 1.4 3.4C1.4 5.3 2.8 6.6 5 6.6C7.2 6.6 8.6 5.3 8.6 3.4C8.6 1.5 7.2 0.2 5 0.2ZM5 6.6C2.4 6.6 0.8 8 0.8 10.2C0.8 12.4 2.4 13.8 5 13.8C7.6 13.8 9.2 12.4 9.2 10.2C9.2 8 7.6 6.6 5 6.6Z"/><path d="M98.5 61.0L108 70.5M98.5 70.5L108 61.0"/><path transform="translate(110.60 58.50) scale(1.000 1.000)" vector-effect="non-scaling-stroke" d="M2.6 2.6L5 0.2V14M2 14H8"/><path transform="translate(122.80 58.50) scale(1.000 1.000)" vector-effect="non-scaling-stroke" d="M5 0C2.3 0 0.8 3 0.8 7C0.8 11 2.3 14 5 14C7.7 14 9.2 11 9.2 7C9.2 3 7.7 0 5 0Z"/><path transform="translate(135.40 54.20) scale(0.600 0.621)" vector-effect="non-scaling-stroke" d="M2.6 2.6L5 0.2V14M2 14H8"/><path transform="translate(142.80 54.20) scale(0.600 0.621)" vector-effect="non-scaling-stroke" d="M8.8 0.2H2.2L1.5 6.2C2.6 5.5 3.7 5.2 5 5.2C7.7 5.2 9.3 7 9.3 9.5C9.3 12.1 7.6 13.8 5 13.8C3.1 13.8 1.7 13.1 0.9 11.9"/><path transform="translate(138.80 514.00) scale(0.940 1.000)" vector-effect="non-scaling-stroke" d="M5 0C2.3 0 0.8 3 0.8 7C0.8 11 2.3 14 5 14C7.7 14 9.2 11 9.2 7C9.2 3 7.7 0 5 0Z"/></g><text x="576.5" y="578" font-size="20" stroke="#000" stroke-width="0.4" textLength="147" lengthAdjust="spacingAndGlyphs">Wavelength, &#197;</text><text transform="translate(66 362) rotate(-90)" x="0" y="0" font-size="20" stroke="#000" stroke-width="0.4" textLength="136" lengthAdjust="spacingAndGlyphs">Relative flux</text></g></svg></body></html>
